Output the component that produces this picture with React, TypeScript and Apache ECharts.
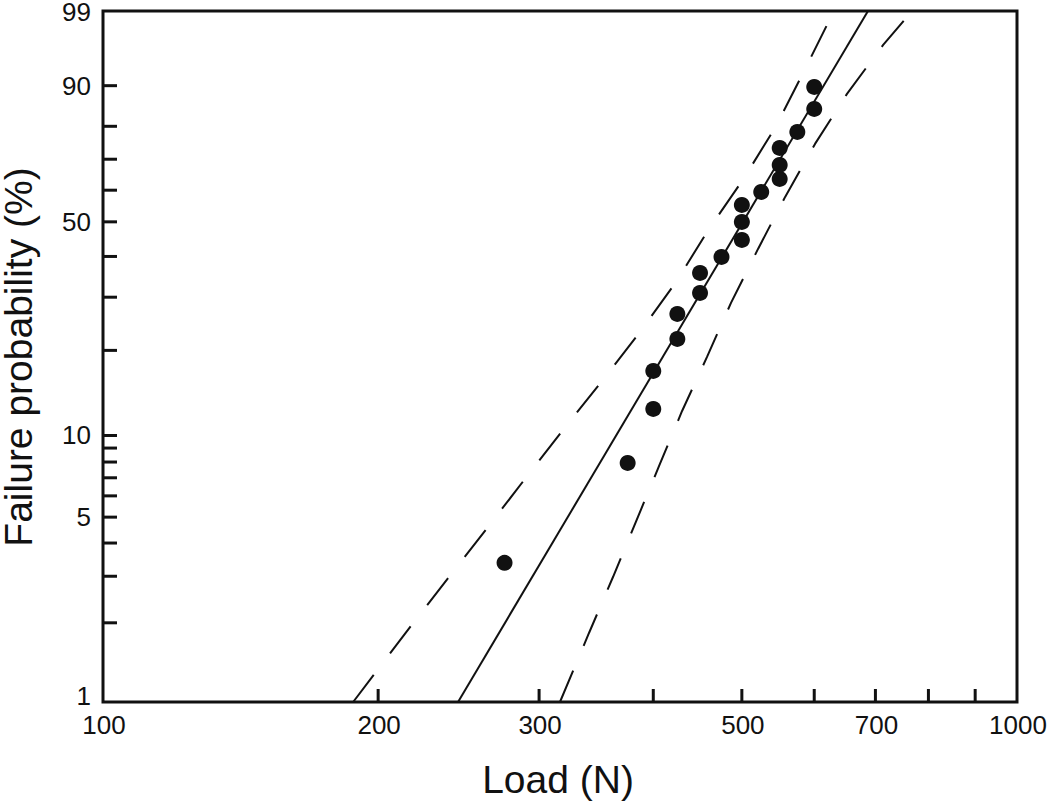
import React, { useEffect, useRef } from "react";
import * as echarts from "echarts";

// Measured data: load (N) and failure probability (%)
const LOADS = [275, 375, 400, 400, 425, 425, 450, 450, 475, 500, 500, 500, 525, 550, 550, 550, 575, 600, 600];
const FAIL_PCT = [3.37, 7.94, 12.47, 16.99, 21.88, 26.49, 30.95, 35.71, 39.88, 44.63, 49.98, 55.28, 59.44, 63.66, 68.18, 73.56, 78.39, 84.69, 89.75];

// Axis extent (top of plot, labelled "99")
const Y_TOP_PCT = 98.83;
const Y_BOTTOM_PCT = 1;

// Weibull fit line
const FIT_LOADS = [244.6, 687];
const FIT_PCT = [1, 98.83];

// Confidence bounds (dashed)
const UPPER_LOADS = [187.8, 217.3, 239.1, 263.2, 289.5, 318.6, 351.6, 386.9, 423.6, 460.3, 502.9, 545.1, 584.9, 630.6];
const UPPER_PCT = [1, 1.95, 2.98, 4.55, 6.93, 10.48, 15.68, 23.09, 33.51, 47.86, 63.98, 80.11, 92.74, 98.83];
const LOWER_LOADS = [316.2, 340.2, 361.4, 405.9, 430.1, 458.0, 486.5, 520.8, 557.6, 601.2, 651.6, 713.8, 767.7];
const LOWER_PCT = [1, 1.83, 2.98, 7.74, 12.26, 19.0, 28.76, 42.07, 57.84, 74.79, 88.26, 96.31, 98.83];

// Ticks and labels
const X_LABELS = [100, 200, 300, 500, 700, 1000];
const X_MINOR = [200, 300, 400, 500, 600, 700, 800, 900];
const Y_LABELS = ["1", "5", "10", "50", "90", "99"];
const Y_LABEL_PCT = [1, 5, 10, 50, 90, 98.83];
const Y_TICKS = [2, 3, 4, 5, 6, 7, 8, 9, 10, 20, 30, 40, 50, 60, 70, 80, 90];

const U = (p: number) => Math.log(-Math.log(1 - p / 100));
const FONT = "'Liberation Sans', Arial, Helvetica, sans-serif";
const INK = "#111";

export default function App() {
  const ref = useRef<HTMLDivElement>(null);
  useEffect(() => {
    if (!ref.current) return;
    const chart = echarts.init(ref.current, undefined, { renderer: "svg" });
    const yMin = U(Y_BOTTOM_PCT);
    const yMax = U(Y_TOP_PCT);
    const option: any = {
      animation: false,
      backgroundColor: "#fff",
      grid: {
        left: 103,
        right: 33,
        top: 11,
        bottom: 101,
        show: true,
        borderColor: INK,
        borderWidth: 3,
      },
      xAxis: {
        type: "log",
        logBase: 10,
        min: 100,
        max: 1000,
        axisLine: { show: false },
        axisTick: { show: false },
        axisLabel: { show: false },
        splitLine: { show: false },
        minorTick: { show: false },
        minorSplitLine: { show: false },
      },
      yAxis: {
        type: "value",
        min: yMin,
        max: yMax,
        axisLine: { show: false },
        axisTick: { show: false },
        axisLabel: { show: false },
        splitLine: { show: false },
      },
      graphic: [
        {
          type: "text",
          x: 558,
          y: 779,
          style: {
            text: "Load (N)",
            fill: INK,
            fontSize: 39,
            fontFamily: FONT,
            align: "center",
            verticalAlign: "middle",
          },
        },
        {
          type: "text",
          x: 18,
          y: 357,
          rotation: Math.PI / 2,
          style: {
            text: "Failure probability (%)",
            fill: INK,
            fontSize: 39,
            lineHeight: 34,
            fontFamily: FONT,
            align: "center",
            verticalAlign: "middle",
          },
        },
      ],
      series: [
        {
          type: "line",
          data: FIT_LOADS.map((l, i) => [l, U(FIT_PCT[i])]),
          symbol: "none",
          lineStyle: { color: INK, width: 2 },
          silent: true,
          z: 3,
        },
        {
          type: "line",
          data: UPPER_LOADS.map((l, i) => [l, U(UPPER_PCT[i])]),
          symbol: "none",
          lineStyle: { color: INK, width: 2, type: [34, 27] },
          silent: true,
          z: 3,
        },
        {
          type: "line",
          data: LOWER_LOADS.map((l, i) => [l, U(LOWER_PCT[i])]),
          symbol: "none",
          lineStyle: { color: INK, width: 2, type: [34, 27] },
          silent: true,
          z: 3,
        },
        {
          type: "scatter",
          data: LOADS.map((l, i) => [l, U(FAIL_PCT[i])]),
          symbol: "circle",
          symbolSize: 16,
          itemStyle: { color: INK, opacity: 1 },
          silent: true,
          z: 4,
        },
        {
          type: "custom",
          coordinateSystem: "cartesian2d",
          data: X_MINOR.map((v) => [v, yMin]),
          silent: true,
          z: 5,
          renderItem: (_p: any, api: any) => {
            const pt = api.coord([api.value(0), api.value(1)]);
            return {
              type: "line",
              shape: { x1: pt[0], y1: pt[1], x2: pt[0], y2: pt[1] - 13 },
              style: { stroke: INK, lineWidth: 3 },
            };
          },
        },
        {
          type: "custom",
          coordinateSystem: "cartesian2d",
          data: Y_TICKS.map((v) => [100, U(v)]),
          silent: true,
          z: 5,
          renderItem: (_p: any, api: any) => {
            const pt = api.coord([api.value(0), api.value(1)]);
            return {
              type: "line",
              shape: { x1: pt[0], y1: pt[1], x2: pt[0] + 14, y2: pt[1] },
              style: { stroke: INK, lineWidth: 3 },
            };
          },
        },
        {
          type: "custom",
          coordinateSystem: "cartesian2d",
          data: X_LABELS.map((v) => [v, yMin]),
          silent: true,
          z: 5,
          renderItem: (p: any, api: any) => {
            const pt = api.coord([api.value(0), api.value(1)]);
            return {
              type: "text",
              x: pt[0] + 1,
              y: pt[1] + 23,
              style: {
                text: String(X_LABELS[p.dataIndex]),
                fill: INK,
                fontSize: 26,
                fontFamily: FONT,
                align: "center",
                verticalAlign: "middle",
              },
            };
          },
        },
        {
          type: "custom",
          coordinateSystem: "cartesian2d",
          data: Y_LABEL_PCT.map((v) => [100, U(v)]),
          silent: true,
          z: 5,
          renderItem: (p: any, api: any) => {
            const pt = api.coord([api.value(0), api.value(1)]);
            const shift = p.dataIndex === 0 ? -6 : p.dataIndex === Y_LABELS.length - 1 ? 1 : 0;
            return {
              type: "text",
              x: pt[0] - 12,
              y: pt[1] + shift,
              style: {
                text: Y_LABELS[p.dataIndex],
                fill: INK,
                fontSize: 26,
                lineHeight: 20,
                fontFamily: FONT,
                align: "right",
                verticalAlign: "middle",
              },
            };
          },
        },
      ],
    };
    chart.setOption(option);
    return () => chart.dispose();
  }, []);
  return (
    <div
      ref={ref}
      style={{ position: "fixed", left: 0, top: 0, width: 1050, height: 803, background: "#fff" }}
    />
  );
}
